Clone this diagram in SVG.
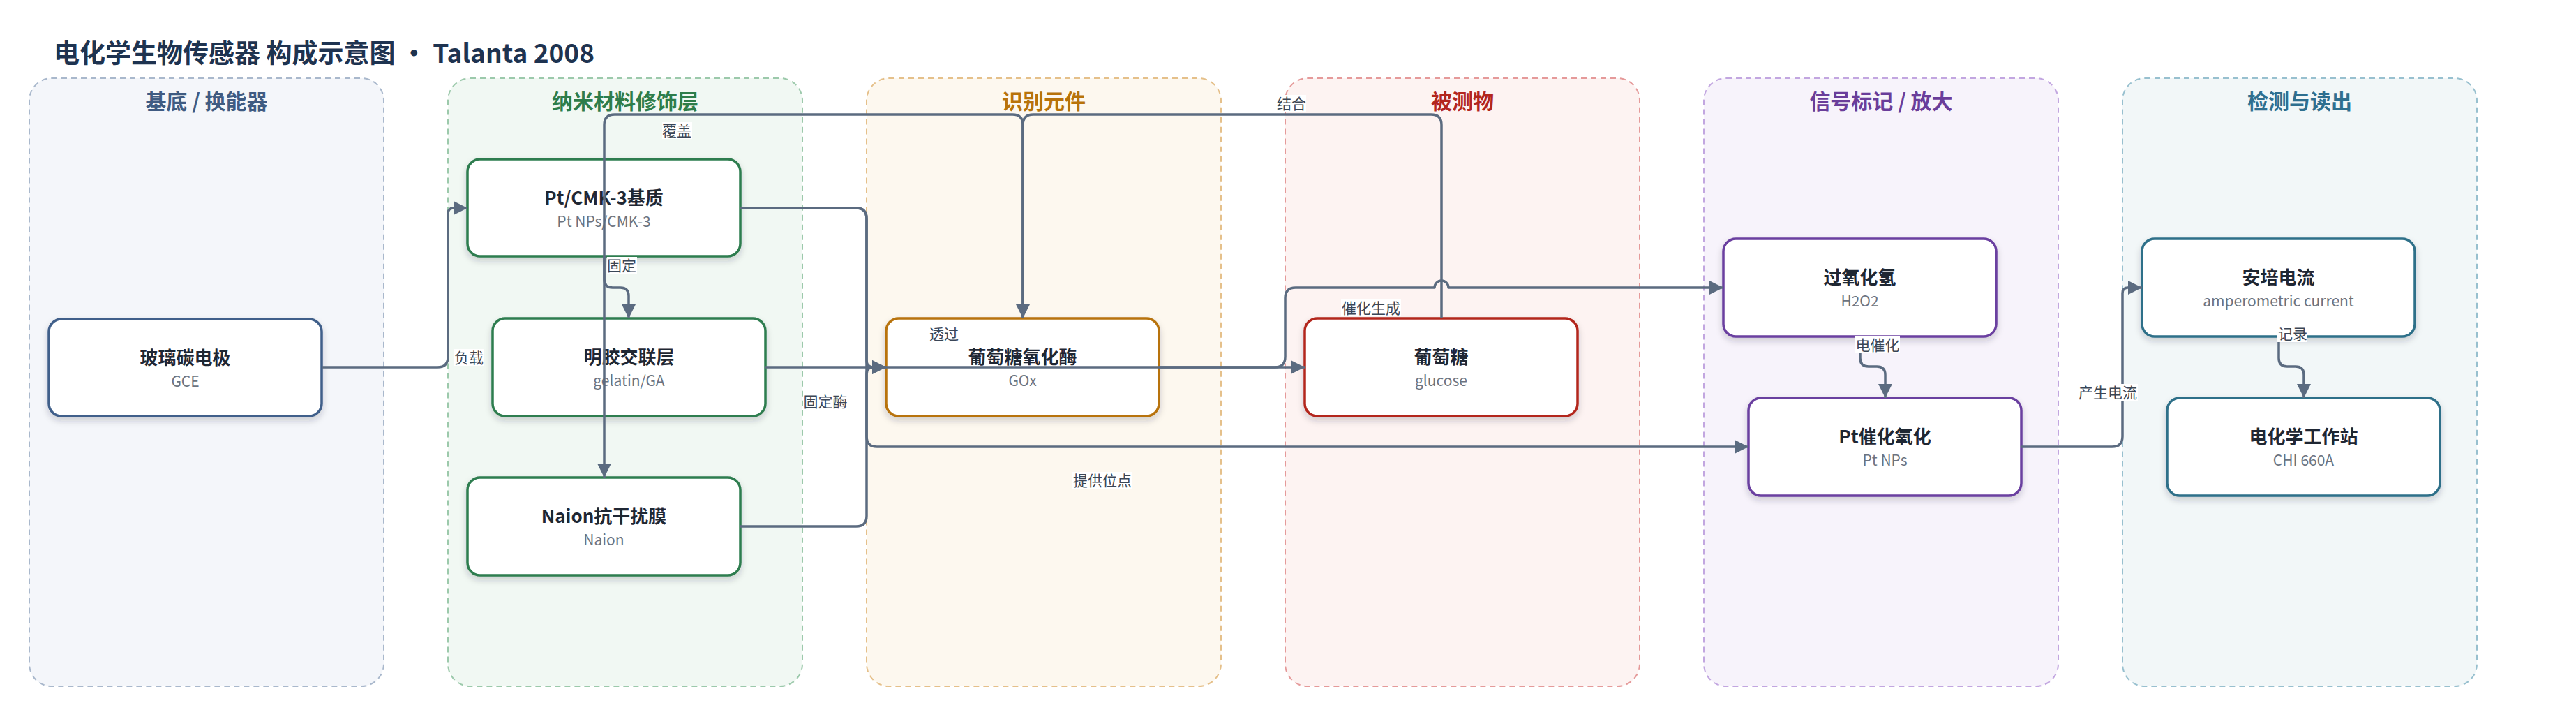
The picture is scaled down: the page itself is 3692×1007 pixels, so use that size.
<svg xmlns="http://www.w3.org/2000/svg" width="3692" height="1007" viewBox="0 0 3692 1007">
<defs>
<style>
text{font-family:"Noto Sans CJK SC","Noto Sans",sans-serif}
.title{font-size:37px;font-weight:700;fill:#1e3350}
.lane{stroke-width:2;stroke-dasharray:8 6}
.lt{font-size:30px;font-weight:700;text-anchor:middle}
.node rect{fill:#fff;stroke-width:3.5;filter:url(#sh)}
.nt{font-size:26px;font-weight:700;fill:#1f2733;text-anchor:middle}
.ns{font-size:21px;fill:#6b7380;text-anchor:middle}
.e{fill:none;stroke:#5b6b80;stroke-width:3.5;stroke-linejoin:round}
.a{marker-end:url(#arr)}
.lb{font-size:21px;fill:#3a4656;text-anchor:middle}
.lbg{fill:#fff}
</style>
<filter id="sh" x="-10%" y="-10%" width="120%" height="130%">
<feDropShadow dx="0" dy="5" stdDeviation="5" flood-color="#1f2937" flood-opacity="0.2"/>
</filter>
<marker id="arr" markerUnits="userSpaceOnUse" markerWidth="22" markerHeight="22" refX="20" refY="10" orient="auto">
<path d="M0,0 L20,10 L0,20 z" fill="#5b6b80"/>
</marker>
</defs>
<rect width="3692" height="1007" fill="#fff"/>
<text class="title" x="77" y="90">电化学生物传感器 构成示意图 · Talanta 2008</text>

<g id="lanes">
<rect class="lane" x="42" y="112" width="508" height="871" rx="32" fill="#f4f6fa" stroke="#a9b8cc"/>
<rect class="lane" x="642" y="112" width="508" height="871" rx="32" fill="#f1f8f3" stroke="#9cc9ab"/>
<rect class="lane" x="1242" y="112" width="508" height="871" rx="32" fill="#fdf8ef" stroke="#e5c08a"/>
<rect class="lane" x="1842" y="112" width="508" height="871" rx="32" fill="#fdf3f2" stroke="#e59a9a"/>
<rect class="lane" x="2442" y="112" width="508" height="871" rx="32" fill="#f7f3fb" stroke="#c2a6e0"/>
<rect class="lane" x="3042" y="112" width="508" height="871" rx="32" fill="#f2f7f8" stroke="#98c0cf"/>
<text class="lt" x="296" y="156" fill="#3f5b82">基底 / 换能器</text>
<text class="lt" x="896" y="156" fill="#2e7d4a">纳米材料修饰层</text>
<text class="lt" x="1496" y="156" fill="#b8730a">识别元件</text>
<text class="lt" x="2096" y="156" fill="#b3261e">被测物</text>
<text class="lt" x="2696" y="156" fill="#6a3d9a">信号标记 / 放大</text>
<text class="lt" x="3296" y="156" fill="#2f6f8f">检测与读出</text>
</g>

<g id="gce" class="node"><rect x="70" y="457" width="391" height="139" rx="18" stroke="#3f5f8a"/><text class="nt" x="265.5" y="522">玻璃碳电极</text><text class="ns" x="265.5" y="554">GCE</text></g>
<g id="ptcmk" class="node"><rect x="670" y="228" width="391" height="139" rx="18" stroke="#2e7d4f"/><text class="nt" x="865.5" y="293">Pt/CMK-3基质</text><text class="ns" x="865.5" y="325">Pt NPs/CMK-3</text></g>
<g id="gelatin" class="node"><rect x="706" y="456" width="391" height="140" rx="18" stroke="#2e7d4f"/><text class="nt" x="901.5" y="521">明胶交联层</text><text class="ns" x="901.5" y="553">gelatin/GA</text></g>
<g id="naion" class="node"><rect x="670" y="684" width="391" height="140" rx="18" stroke="#2e7d4f"/><text class="nt" x="865.5" y="749">Naion抗干扰膜</text><text class="ns" x="865.5" y="781">Naion</text></g>
<g id="gox" class="node"><rect x="1270" y="456" width="391" height="140" rx="18" stroke="#b8730a"/><text class="nt" x="1465.5" y="521">葡萄糖氧化酶</text><text class="ns" x="1465.5" y="553">GOx</text></g>
<g id="glucose" class="node"><rect x="1870" y="456" width="391" height="140" rx="18" stroke="#b3261e"/><text class="nt" x="2065.5" y="521">葡萄糖</text><text class="ns" x="2065.5" y="553">glucose</text></g>
<g id="h2o2" class="node"><rect x="2470" y="342" width="391" height="140" rx="18" stroke="#6b3fa0"/><text class="nt" x="2665.5" y="407">过氧化氢</text><text class="ns" x="2665.5" y="439">H2O2</text></g>
<g id="ptox" class="node"><rect x="2506" y="570" width="391" height="140" rx="18" stroke="#6b3fa0"/><text class="nt" x="2701.5" y="635">Pt催化氧化</text><text class="ns" x="2701.5" y="667">Pt NPs</text></g>
<g id="current" class="node"><rect x="3070" y="342" width="391" height="140" rx="18" stroke="#2e7089"/><text class="nt" x="3265.5" y="407">安培电流</text><text class="ns" x="3265.5" y="439">amperometric current</text></g>
<g id="chi" class="node"><rect x="3106" y="570" width="391" height="140" rx="18" stroke="#2e7089"/><text class="nt" x="3301.5" y="635">电化学工作站</text><text class="ns" x="3301.5" y="667">CHI 660A</text></g>

<g id="connectors">
<path class="e a" d="M461,526 H627 Q642,526 642,511 V306 Q642,298 650,298 H670"/>
<path class="e a" d="M866,367 V400 Q866,412 878,412 H889 Q901,412 901,424 V456"/>
<path class="e a" d="M1466,456 V179 Q1466,164 1451,164 H881 Q866,164 866,179 V684"/>
<path class="e a" d="M2066,456 V179 Q2066,164 2051,164 H1481 Q1466,164 1466,179 V456"/>
<path class="e a" d="M1061,298 H1227 Q1242,298 1242,313 V625 Q1242,640 1257,640 H2506"/>
<path class="e a" d="M1061,298 H1227 Q1242,298 1242,313 V516 Q1242,526 1252,526 H1270"/>
<path class="e a" d="M1061,754 H1227 Q1242,754 1242,739 V536 Q1242,526 1252,526 H1270"/>
<path class="e a" d="M1097,526 H1870"/>
<path class="e a" d="M1661,526 H1827 Q1842,526 1842,511 V427 Q1842,412 1857,412 H2056 A10,10 0 0 1 2076,412 H2470"/>
<path class="e a" d="M2666,482 V513 Q2666,525 2678,525 H2690 Q2702,525 2702,537 V570"/>
<path class="e a" d="M2897,640 H3027 Q3042,640 3042,625 V420 Q3042,412 3050,412 H3070"/>
<path class="e a" d="M3266,482 V513 Q3266,525 3278,525 H3290 Q3302,525 3302,537 V570"/>
</g>

<g id="edge-labels">
<rect class="lbg" x="651" y="500" width="43" height="24"/><text class="lb" x="672" y="520">负载</text>
<rect class="lbg" x="870" y="368" width="43" height="24"/><text class="lb" x="891" y="388">固定</text>
<rect class="lbg" x="949" y="175" width="43" height="24"/><text class="lb" x="970" y="195">覆盖</text>
<rect class="lbg" x="1829" y="136" width="43" height="24"/><text class="lb" x="1851" y="156">结合</text>
<rect class="lbg" x="1332" y="466" width="43" height="24"/><text class="lb" x="1353" y="486">透过</text>
<rect class="lbg" x="1151" y="563" width="64" height="24"/><text class="lb" x="1183" y="583">固定酶</text>
<rect class="lbg" x="1537" y="676" width="86" height="24"/><text class="lb" x="1580" y="696">提供位点</text>
<rect class="lbg" x="1922" y="429" width="86" height="24"/><text class="lb" x="1965" y="449">催化生成</text>
<rect class="lbg" x="2659" y="482" width="64" height="24"/><text class="lb" x="2691" y="502">电催化</text>
<rect class="lbg" x="2978" y="550" width="86" height="24"/><text class="lb" x="3021" y="570">产生电流</text>
<rect class="lbg" x="3264" y="466" width="43" height="24"/><text class="lb" x="3286" y="486">记录</text>
</g>
</svg>
